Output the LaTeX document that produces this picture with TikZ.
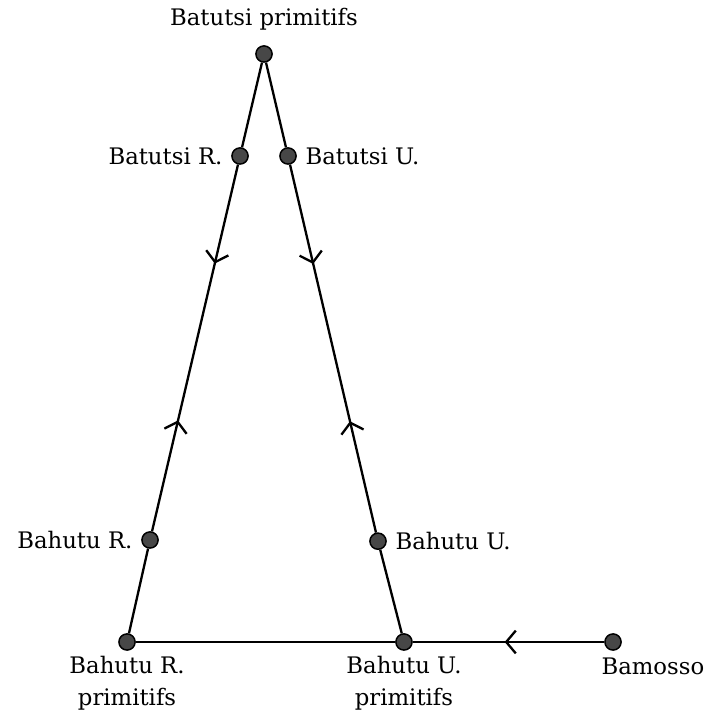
\documentclass[tikz,border=0pt]{standalone}
\usepackage{fontspec}
\setmainfont{DejaVu Serif}
\usetikzlibrary{arrows.meta, decorations.markings}

\begin{document}
\begin{tikzpicture}[>={Straight Barb[length=1.6mm, width=3.8mm]}, line width=1.1pt,
  tribe/.style={circle, draw=black, fill=black!72, inner sep=0pt, minimum size=0.27cm, line width=0.7pt, label distance=1.3mm},
  flow/.style={postaction={decorate}, decoration={markings,
    mark=at position 0.27 with {\arrow{>}}, mark=at position 0.73 with {\arrow{<}}}}]
\useasboundingbox (0,0) rectangle (11.733,11.9);
\fontsize{10.8}{15}\selectfont
% Define nodes for the populations
\node[tribe, label={[label distance=1mm]above:Batutsi primitifs}] (BtP) at (4.40,11.0) {};
\node[tribe, label=left:Batutsi R.] (BtR) at (4.00,9.30) {};
\node[tribe, label=right:Batutsi U.] (BtU) at (4.80,9.30) {};
\node[tribe, label=left:Bahutu R.] (BhR) at (2.50,2.90) {};
\node[tribe, label=right:Bahutu U.] (BhU) at (6.30,2.88) {};
\node[tribe, label={[align=center, inner sep=0pt, yshift=-0.7mm]below:Bahutu R.\\primitifs}] (BhRP) at (2.117,1.20) {};
\node[tribe, label={[align=center, inner sep=0pt, yshift=-0.7mm]below:Bahutu U.\\primitifs}] (BhUP) at (6.733,1.20) {};
\node[tribe, label={[anchor=north west, inner sep=0pt, xshift=-2.1mm, yshift=-1mm]south:Bamosso}] (Bam) at (10.217,1.20) {};

% Left branch
\draw (BtP) -- (BtR);
\draw[flow] (BtR) -- (BhR);
\draw (BhR) -- (BhRP);

% Right branch
\draw (BtP) -- (BtU);
\draw[flow] (BtU) -- (BhU);
\draw (BhU) -- (BhUP);

% Bottom line
\draw (BhRP) -- (BhUP);
\draw[postaction={decorate}, decoration={markings, mark=at position 0.52 with {\arrow{>}}}] (Bam) -- (BhUP);
\end{tikzpicture}
\end{document}
